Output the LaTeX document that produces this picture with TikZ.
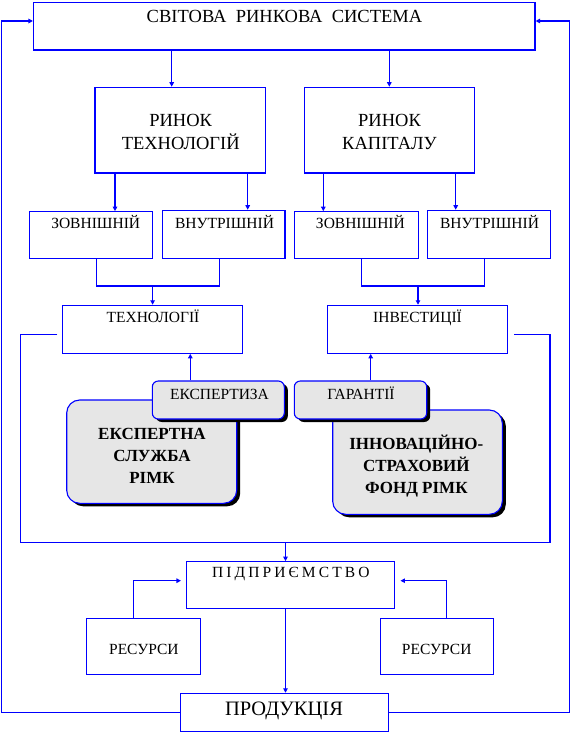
\documentclass[tikz,border=0pt]{standalone}
\usepackage{fontspec}
\setmainfont{Liberation Serif}
\usetikzlibrary{arrows.meta,shadows,calc}
\definecolor{lineblue}{RGB}{0,0,255}
\definecolor{boxgrey}{RGB}{230,230,230}
\begin{document}
\begin{tikzpicture}[x=1pt,y=-1pt,
  box/.style={draw=lineblue, line width=1.1pt, rectangle, inner sep=0pt, fill=white},
  gbox/.style={draw=lineblue, line width=1.1pt, rectangle, inner sep=0pt, fill=boxgrey,
     drop shadow={shadow xshift=3.5pt, shadow yshift=-3pt, fill=black, opacity=1}},
  conn/.style={draw=lineblue, line width=1.1pt},
  arr/.style={conn, -{Triangle[length=4.5pt,width=4.5pt]}},
  txt/.style={inner sep=0pt, anchor=base, font=\fontsize{15.5}{18}\selectfont},
  bigtxt/.style={txt, font=\fontsize{18.5}{22}\selectfont},
  boldtxt/.style={txt, font=\fontsize{17}{22}\selectfont\bfseries},
  prodtxt/.style={txt, font=\fontsize{20.5}{24}\selectfont}]
\useasboundingbox (0,0) rectangle (571,735);

% boxes
\node[box, minimum width=501.5pt, minimum height=47.5pt] (top) at (284.25,26.25) {};
\node[box, minimum width=170.3pt, minimum height=85.7pt] (rt) at (180.15,130.15) {};
\node[box, minimum width=170.4pt, minimum height=85.7pt] (rk) at (389.5,130.15) {};
\node[box, minimum width=123.3pt, minimum height=46.6pt] (zl) at (90.95,235) {};
\node[box, minimum width=122.8pt, minimum height=48pt] (vl) at (223.6,234.3) {};
\node[box, minimum width=124pt, minimum height=46.6pt] (zr) at (356.4,235) {};
\node[box, minimum width=122.9pt, minimum height=48pt] (vr) at (488.85,234.3) {};
\node[box, minimum width=179.7pt, minimum height=48pt] (tech) at (152.25,329.3) {};
\node[box, minimum width=180.1pt, minimum height=48pt] (inv) at (417.25,329.3) {};
\node[gbox, rounded corners=13pt, minimum width=170pt, minimum height=103.3pt] (esl) at (151.7,451.65) {};
\node[gbox, rounded corners=6pt, minimum width=132pt, minimum height=38pt] (exz) at (218.3,400) {};
\node[gbox, rounded corners=13pt, minimum width=169.6pt, minimum height=104.3pt] (fond) at (417.5,462.15) {};
\node[gbox, rounded corners=6pt, minimum width=132.4pt, minimum height=38pt] (gar) at (360.5,400) {};
\node[box, minimum width=207.9pt, minimum height=46.6pt] (pid) at (290.45,585) {};
\node[box, minimum width=114pt, minimum height=56pt] (resl) at (143.3,646.3) {};
\node[box, minimum width=112.8pt, minimum height=56pt] (resr) at (437,646.3) {};
\node[box, minimum width=207.6pt, minimum height=38.4pt] (prod) at (284.4,712.5) {};

% texts
\node[bigtxt] (ttop) at (284.5,22.7) {СВІТОВА\ \ РИНКОВА\ \ СИСТЕМА};
\node[bigtxt] (trt1) at (180.7,126.7) {РИНОК};
\node[bigtxt] (trt2) at (180.7,150) {ТЕХНОЛОГІЙ};
\node[bigtxt] (trk1) at (389.5,126.7) {РИНОК};
\node[bigtxt] (trk2) at (389.5,150) {КАПІТАЛУ};
\node[txt] (tzl) at (95.7,229) {ЗОВНІШНІЙ};
\node[txt] (tvl) at (224.5,228.3) {ВНУТРІШНІЙ};
\node[txt] (tzr) at (360.4,229) {ЗОВНІШНІЙ};
\node[txt] (tvr) at (489.5,228.3) {ВНУТРІШНІЙ};
\node[txt] (ttech) at (153,322.7) {ТЕХНОЛОГІЇ};
\node[txt] (tinv) at (417.5,322.7) {ІНВЕСТИЦІЇ};
\node[txt] (texz) at (219.5,399.3) {ЕКСПЕРТИЗА};
\node[txt] (tgar) at (361,399.3) {ГАРАНТІЇ};
\node[boldtxt] (tesl1) at (152,439.3) {ЕКСПЕРТНА};
\node[boldtxt] (tesl2) at (152,461.7) {СЛУЖБА};
\node[boldtxt] (tesl3) at (152,483.3) {РІМК};
\node[boldtxt] (tfond1) at (416.3,449.3) {ІННОВАЦІЙНО-};
\node[boldtxt] (tfond2) at (416.3,471.7) {СТРАХОВИЙ};
\node[boldtxt] (tfond3) at (416.3,493.3) {ФОНД РІМК};
\node[txt] (tpid) at (290.8,577.3) {\spaceskip=3.1pt\relax П І Д П Р И Є М С Т В О};
\node[txt] (tresl) at (143.9,654) {РЕСУРСИ};
\node[txt] (tresr) at (436.7,654) {РЕСУРСИ};
\node[prodtxt] (tprod) at (284,715) {ПРОДУКЦІЯ};

% helper coordinates
\coordinate (xa) at (171.7,0);
\coordinate (xb) at (389.3,0);
\coordinate (xc) at (115,0);
\coordinate (xd) at (247.7,0);
\coordinate (xe) at (323.3,0);
\coordinate (xf) at (455.7,0);
\coordinate (xg) at (96.4,0);
\coordinate (xh) at (219.4,0);
\coordinate (bl) at (152.6,286);
\coordinate (xj) at (361.3,0);
\coordinate (xk) at (484.2,0);
\coordinate (br) at (418,286);
\coordinate (el) at (20.8,542.3);
\coordinate (er) at (550,542.3);
\coordinate (eb) at (285.5,542.3);
\coordinate (xm) at (190.3,0);
\coordinate (xn) at (370.7,0);
\coordinate (xo) at (133.6,0);
\coordinate (xp) at (446.5,0);
\coordinate (ry) at (0,580.7);
\coordinate (ty) at (0,21);
\coordinate (olx) at (1.8,0);
\coordinate (orx) at (569.2,0);

% connectors
\draw[arr] (top.south -| xa) -- (rt.north -| xa);
\draw[arr] (top.south -| xb) -- (rk.north -| xb);
\draw[arr] (rt.south -| xc) -- (zl.north -| xc);
\draw[arr] (rt.south -| xd) -- (vl.north -| xd);
\draw[arr] (rk.south -| xe) -- (zr.north -| xe);
\draw[arr] (rk.south -| xf) -- (vr.north -| xf);
\draw[conn] (zl.south -| xg) |- (bl) -| (vl.south -| xh);
\draw[arr] (bl) -- (tech.north -| bl);
\draw[conn] (zr.south -| xj) |- (br) -| (vr.south -| xk);
\draw[arr] (br) -- (inv.north -| br);
\draw[arr] (exz.north -| xm) -- (tech.south -| xm);
\draw[arr] (gar.north -| xn) -- (inv.south -| xn);
\draw[conn] ([xshift=-4.5pt,yshift=-5pt]tech.west) -| (el) -- (er) |- ([xshift=6.2pt,yshift=-5pt]inv.east);
\draw[arr] (eb) -- (pid.north -| eb);
\draw[arr, shorten >=5pt] (resl.north -| xo) |- (pid.west |- ry);
\draw[arr, shorten >=5.5pt] (resr.north -| xp) |- (pid.east |- ry);
\draw[arr] (pid.south -| eb) -- (prod.north -| eb);
\draw[arr] (prod.west) -| (olx |- ty) -- (top.west |- ty);
\draw[arr] (prod.east) -| (orx |- ty) -- (top.east |- ty);
\end{tikzpicture}
\end{document}
